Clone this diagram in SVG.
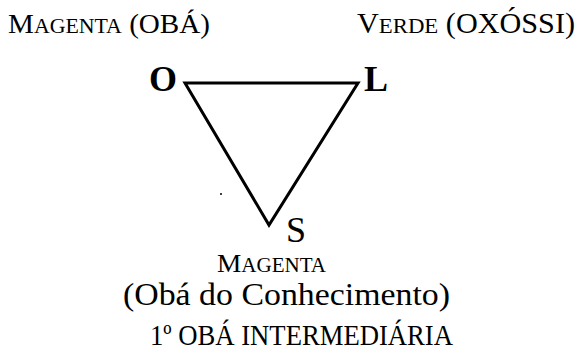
<svg xmlns="http://www.w3.org/2000/svg" width="580" height="356" viewBox="0 0 580 356">
<style>
text{font-family:"Liberation Serif","Times New Roman",serif;fill:#000}
.v{font-size:36px}
.b{font-weight:bold}
.edge{stroke:#000;stroke-width:3;fill:none;stroke-linejoin:miter}
</style>
<rect width="580" height="356" fill="#fff"/>
<g id="label-obá">
<text x="8" y="33" textLength="202" lengthAdjust="spacingAndGlyphs"><tspan font-size="28">M</tspan><tspan font-size="21">AGENTA</tspan><tspan font-size="28"> (OBÁ)</tspan></text>
</g>
<g id="label-oxóssi">
<text x="357" y="33" textLength="218" lengthAdjust="spacingAndGlyphs"><tspan font-size="28.5">V</tspan><tspan font-size="21.5">ERDE</tspan><tspan font-size="28.5"> (OXÓSSI)</tspan></text>
</g>
<g id="connectors">
<polygon class="edge" points="185,83 358,83 269,225"/>
</g>
<g id="node-O"><text class="v b" x="149" y="91">O</text></g>
<g id="node-L"><text class="v b" x="364" y="91">L</text></g>
<g id="node-S"><text class="v" x="286" y="242" font-size="37">S</text></g>
<circle cx="221" cy="194" r="1" fill="#000"/>
<g id="label-bottom">
<text x="217" y="272" textLength="109" lengthAdjust="spacingAndGlyphs"><tspan font-size="26">M</tspan><tspan font-size="20">AGENTA</tspan></text>
<text x="123" y="305" font-size="31" textLength="327" lengthAdjust="spacingAndGlyphs">(Obá do Conhecimento)</text>
<text x="150" y="345" font-size="30" textLength="303" lengthAdjust="spacingAndGlyphs">1º OBÁ INTERMEDIÁRIA</text>
</g>
</svg>
